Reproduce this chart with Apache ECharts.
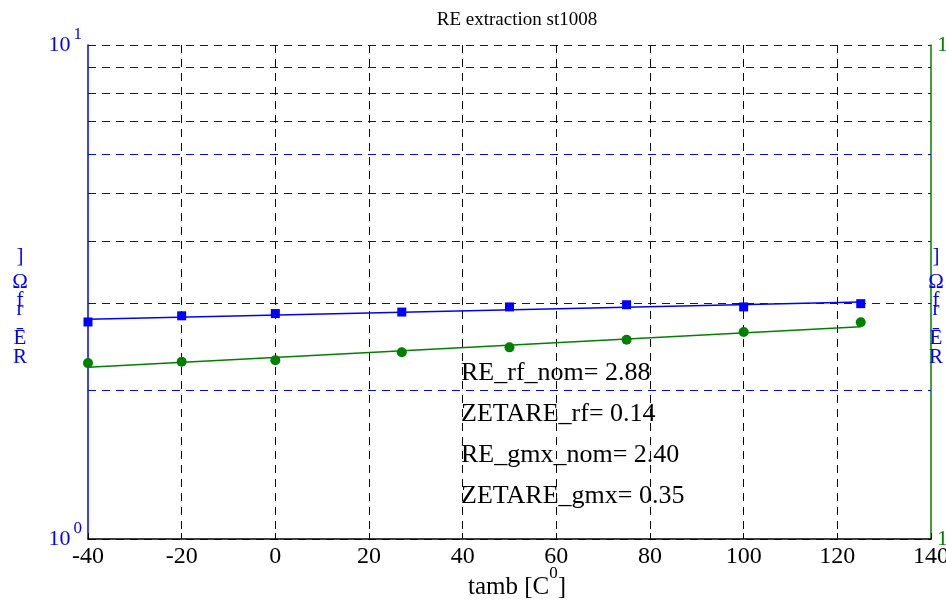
<!DOCTYPE html>
<html>
<head>
<meta charset="utf-8">
<script src="https://cdn.jsdelivr.net/npm/echarts@6/dist/echarts.min.js"></script>
<style>html,body{margin:0;padding:0;background:#fff}#c{width:946px;height:601px}</style>
</head>
<body>
<div id="c"></div>
<script>
// ---- data ----
var temps = [-40, -20, 0, 27, 50, 75, 100, 125];
var reRf = [2.75, 2.83, 2.86, 2.88, 2.95, 2.98, 2.95, 2.995];
var reGmx = [2.27, 2.285, 2.30, 2.388, 2.443, 2.532, 2.624, 2.746];
var fitTemps = [-40, 125];
var fitRf = [2.785, 3.02];
var fitGmx = [2.227, 2.69];
var minorLogTicks = [2, 3, 4, 5, 6, 7, 8, 9];
var xTicks = { min: -40, max: 140, interval: 20 };
var titleText = 'RE extraction st1008';
var xName = '{n|tamb [C}{s|0}{n|]}';
var notes = ['RE_rf_nom= 2.88', 'ZETARE_rf= 0.14', 'RE_gmx_nom= 2.40', 'ZETARE_gmx= 0.35'];

function pairs(xs, ys) { return xs.map(function (x, i) { return [x, ys[i]]; }); }

var FONT = 'Liberation Serif';
var chart = echarts.init(document.getElementById('c'), null, { renderer: 'canvas' });

var powFmt = function (v) {
  var e = Math.round(Math.log10(v));
  return '{b|10}{s|' + e + '}';
};
function powRich(color) {
  return {
    b: { fontFamily: FONT, fontSize: 22, color: color, verticalAlign: 'middle', padding: [12, 0, 12, 0] },
    s: { fontFamily: FONT, fontSize: 17, color: color, verticalAlign: 'top', padding: [4, 0, 0, 3] }
  };
}

var noteGraphics = notes.map(function (t, i) {
  return {
    type: 'text', left: 461, top: 360 + i * 41, z: 100,
    style: { text: t, fontFamily: FONT, fontSize: 26, fill: '#000' }
  };
});

var xNameGraphic = {
  type: 'text', x: 517, y: 565, z: 100,
  style: {
    text: xName, align: 'center', verticalAlign: 'top',
    rich: {
      n: { fontFamily: FONT, fontSize: 25, fill: '#000', verticalAlign: 'bottom', padding: [10, 0, 0, 0] },
      s: { fontFamily: FONT, fontSize: 17, fill: '#000', verticalAlign: 'top', padding: [0, 0, 12, 0] }
    }
  }
};

function stackedLabel(cx) {
  var parts = [
    { t: ']', y: 246 },
    { t: 'Ω', y: 272 },
    { t: 'f', y: 290 },
    { t: 'r', y: 299 },
    { t: 'Ē', y: 328 },
    { t: 'R', y: 347 }
  ];
  return parts.map(function (p) {
    return {
      type: 'text', x: cx, y: p.y, z: 100,
      style: { text: p.t, fontFamily: FONT, fontSize: 21, fill: '#0000ff', align: 'center' }
    };
  });
}

var option = {
  backgroundColor: '#ffffff',
  animation: false,
  title: {
    text: titleText, left: 512, top: 6, textAlign: 'center',
    textStyle: { fontFamily: FONT, fontSize: 19, fontWeight: 'normal', color: '#000' }
  },
  grid: { left: 88, right: 15, top: 45, bottom: 62, containLabel: false, outerBoundsMode: 'none' },
  xAxis: {
    type: 'value', min: xTicks.min, max: xTicks.max, interval: xTicks.interval,
    axisLine: { show: true, onZero: false, lineStyle: { color: '#000', width: 1.5 } },
    axisTick: { show: true, inside: true, length: 6, lineStyle: { color: '#000' } },
    axisLabel: { fontFamily: FONT, fontSize: 24, color: '#000', margin: 6 },
    splitLine: { show: true, showMinLine: false, showMaxLine: false, lineStyle: { color: '#000', type: [8, 6], width: 1 } }
  },
  yAxis: [
    {
      type: 'log', logBase: 10, min: 1, max: 10, position: 'left',
      axisLine: { show: true, onZero: false, lineStyle: { color: '#0000ff', width: 1.5 } },
      axisTick: { show: false },
      axisLabel: { formatter: powFmt, rich: powRich('#0000ff'), margin: 6 },
      splitLine: { show: true, lineStyle: { color: '#0000ff', type: [8, 6], width: 1 } }
    },
    {
      type: 'log', logBase: 10, min: 1, max: 10, position: 'right',
      axisLine: { show: true, onZero: false, lineStyle: { color: '#008000', width: 1.5 } },
      axisTick: { show: false },
      axisLabel: { formatter: powFmt, rich: powRich('#008000'), margin: 6 },
      splitLine: { show: false }
    }
  ],
  series: [
    {
      type: 'scatter', yAxisIndex: 0, data: pairs(temps, reRf),
      symbol: 'rect', symbolSize: 9, itemStyle: { color: '#0000ff', opacity: 1 }, z: 5,
      markLine: {
        silent: true, symbol: 'none', label: { show: false },
        lineStyle: { color: '#0000ff', type: [8, 6], width: 1, opacity: 1 },
        emphasis: { disabled: true },
        data: minorLogTicks.map(function (v) { return { yAxis: v }; })
      }
    },
    {
      type: 'line', yAxisIndex: 0, data: pairs(fitTemps, fitRf),
      showSymbol: false, symbol: 'none', lineStyle: { color: '#0000ff', width: 1.5 }, z: 4
    },
    {
      type: 'scatter', yAxisIndex: 0, data: pairs(temps, reGmx),
      symbol: 'circle', symbolSize: 10, itemStyle: { color: '#008000', opacity: 1 }, z: 5
    },
    {
      type: 'line', yAxisIndex: 0, data: pairs(fitTemps, fitGmx),
      showSymbol: false, symbol: 'none', lineStyle: { color: '#008000', width: 1.5 }, z: 4
    }
  ],
  graphic: noteGraphics.concat([xNameGraphic]).concat(stackedLabel(20)).concat(stackedLabel(936))
};
chart.setOption(option);
</script>
</body>
</html>
